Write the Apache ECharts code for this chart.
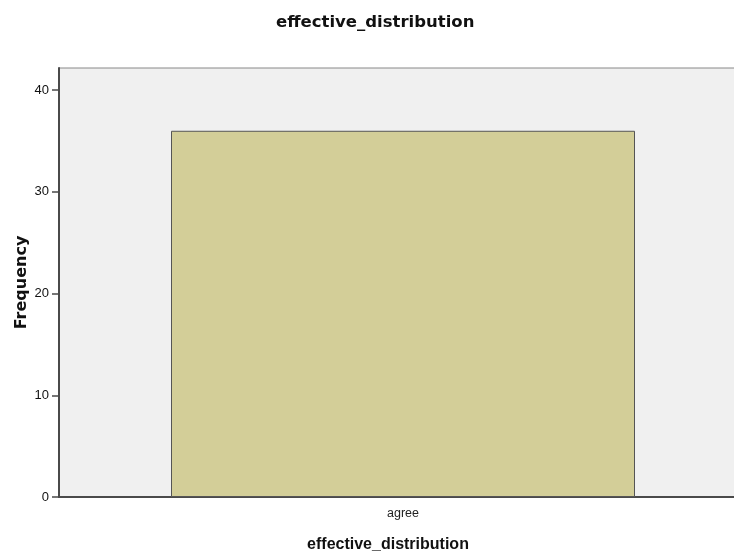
<!DOCTYPE html>
<html><head><meta charset="utf-8">
<script src="https://cdn.jsdelivr.net/npm/echarts@6/dist/echarts.min.js"></script>
<style>html,body{margin:0;padding:0;background:#fff}#c{width:734px;height:556px}</style>
</head><body><div id="c"></div>
<script>
const categories = ['agree'];
const frequencies = [36];
const yTicks = [0, 10, 20, 30, 40];

const chart = echarts.init(document.getElementById('c'));
chart.setOption({
  animation: false,
  backgroundColor: '#ffffff',
  title: {
    text: 'effective_distribution', left: 271, top: 9,
    textStyle: {fontFamily: 'DejaVu Sans', fontSize: 16.5, fontWeight: 'bold', color: '#111'}
  },
  grid: {
    left: 59, top: 68, width: 688, bottom: 59, show: true,
    outerBoundsMode: 'none', containLabel: false,
    backgroundColor: '#f0f0f0', borderColor: '#888', borderWidth: 1
  },
  xAxis: {
    type: 'category', data: categories,
    name: 'effective_distribution', nameLocation: 'middle', nameGap: 40,
    nameMoveOverlap: false,
    nameTextStyle: {fontFamily: 'Liberation Sans', fontSize: 16, fontWeight: 'bold', color: '#111', padding: [0, 0, 0, -30]},
    axisLine: {lineStyle: {color: '#4a4a4a', width: 2}},
    axisTick: {alignWithLabel: true, length: 6, lineStyle: {color: '#4a4a4a'}},
    axisLabel: {fontFamily: 'Liberation Sans', fontSize: 12.5, color: '#222', margin: 10}
  },
  yAxis: {
    type: 'value', min: 0, max: 42.17,
    name: 'Frequency', nameLocation: 'middle', nameGap: 29, nameRotate: 90,
    nameMoveOverlap: false,
    nameTextStyle: {fontFamily: 'DejaVu Sans', fontSize: 16, fontWeight: 'bold', color: '#111'},
    axisLine: {show: true, lineStyle: {color: '#4a4a4a', width: 2}},
    axisTick: {show: true, length: 7, customValues: yTicks, lineStyle: {color: '#4a4a4a', width: 1.5}},
    axisLabel: {fontFamily: 'Liberation Sans', fontSize: 13, color: '#111', margin: 10, customValues: yTicks},
    splitLine: {show: false}
  },
  series: [{
    type: 'bar', data: frequencies, barWidth: 464,
    itemStyle: {color: '#d3ce98', borderColor: '#555', borderWidth: 1}
  }]
});
</script></body></html>
